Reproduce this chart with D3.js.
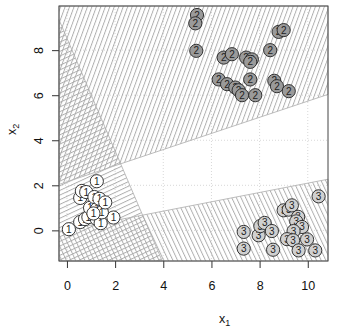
<!DOCTYPE html>
<html><head><meta charset="utf-8">
<script src="https://cdn.jsdelivr.net/npm/d3@7"></script>
<style>body{margin:0;background:#fff}svg{display:block}text{font-family:"Liberation Sans",Arial,sans-serif}</style>
</head><body><svg id="c" width="337" height="334"></svg>
<script>
// axis limits and ticks
const xLim = [-0.33, 10.84];
const yLim = [-1.36, 9.96];
const xTicks = [0, 2, 4, 6, 8, 10];
const yTicks = [0, 2, 4, 6, 8];
// class 1 points
const c1x = [0.08,0.55,0.75,0.89,1.24,1.40,1.93,0.96,1.25,1.45,0.55,0.62,0.80,1.14,1.35,1.59,1.24,1.10];
const c1y = [0.05,0.37,0.50,0.59,0.50,0.32,0.57,1.00,0.95,0.80,1.44,1.75,1.70,1.48,1.40,1.24,2.18,0.75];
// class 2 points
const c2x = [5.40,5.33,5.37,6.51,6.85,7.44,7.68,7.61,8.44,8.79,9.00,6.30,6.65,6.99,7.13,7.27,7.82,7.61,8.61,8.72,9.21];
const c2y = [9.56,9.19,7.97,7.67,7.82,7.67,7.59,7.48,8.00,8.81,8.89,6.70,6.49,6.34,6.22,6.00,6.00,6.70,6.64,6.40,6.18];
// class 3 points
const c3x = [10.45,9.00,9.21,9.34,9.60,9.52,9.76,9.41,9.14,9.39,9.97,9.62,10.31,8.56,7.34,7.34,7.96,8.03,8.21,8.51];
const c3y = [1.51,0.89,0.92,1.11,0.60,0.40,0.15,-0.03,-0.39,-0.44,-0.40,-0.89,-0.89,-0.86,-0.81,-0.07,-0.22,0.19,0.33,-0.03];
// decision lines: a*x + b*y + c >= 0 means the class claims the point
const lineA = [-2.5, -1, 8.53];   // class 1
const lineB = [-0.358, 1, -2.155]; // class 2
const lineC = [0.207, -1, 0.026];  // class 3

const svg = d3.select("#c");
const x = d3.scaleLinear().domain(xLim).range([59, 328]);
const y = d3.scaleLinear().domain(yLim).range([261, 6]);

const defs = svg.append("defs");
function pat(id, ang) {
  const p = defs.append("pattern").attr("id", id).attr("patternUnits", "userSpaceOnUse")
    .attr("width", 4.2).attr("height", 20).attr("patternTransform", "rotate(" + ang + ")");
  p.append("line").attr("x1", 0.5).attr("y1", 0).attr("x2", 0.5).attr("y2", 20)
    .attr("stroke", "#aaaaaa").attr("stroke-width", 0.9);
}
pat("h1", 65); pat("h2", 20); pat("h3", -25);

// grid
const grid = svg.append("g").attr("stroke", "#d8d8d8").attr("stroke-dasharray", "1,2");
xTicks.forEach(t => grid.append("line").attr("x1", x(t)).attr("x2", x(t)).attr("y1", 6).attr("y2", 261));
yTicks.forEach(t => grid.append("line").attr("y1", y(t)).attr("y2", y(t)).attr("x1", 59).attr("x2", 328));

function clip(poly, L) {
  const f = p => L[0] * p[0] + L[1] * p[1] + L[2];
  const out = [];
  for (let i = 0; i < poly.length; i++) {
    const P = poly[i], Q = poly[(i + 1) % poly.length];
    const fp = f(P), fq = f(Q);
    if (fp >= 0) out.push(P);
    if ((fp >= 0) !== (fq >= 0)) {
      const t = fp / (fp - fq);
      out.push([P[0] + t * (Q[0] - P[0]), P[1] + t * (Q[1] - P[1])]);
    }
  }
  return out;
}
const rect = [[xLim[0], yLim[0]], [xLim[1], yLim[0]], [xLim[1], yLim[1]], [xLim[0], yLim[1]]];
[[lineA, "h1"], [lineB, "h2"], [lineC, "h3"]].forEach(([L, id]) => {
  const poly = clip(rect, L);
  svg.append("path").attr("d", d3.line().x(d => x(d[0])).y(d => y(d[1]))(poly) + "Z")
    .attr("fill", "url(#" + id + ")").attr("stroke", "#b5b5b5").attr("stroke-width", 0.9);
});

// axes
const xa = svg.append("g").attr("transform", "translate(0,261)")
  .call(d3.axisBottom(x).tickValues(xTicks).tickSize(7).tickPadding(13).tickFormat(d3.format("d")));
const ya = svg.append("g").attr("transform", "translate(59,0)")
  .call(d3.axisLeft(y).tickValues(yTicks).tickSize(7).tickPadding(0).tickFormat(d3.format("d")));
[xa, ya].forEach(a => {
  a.select(".domain").remove();
  a.selectAll("line").attr("stroke", "#333");
  a.selectAll("text").attr("font-size", 12.5).attr("fill", "#111")
    .attr("font-family", "Liberation Sans, Arial, sans-serif");
});
ya.selectAll(".tick text").attr("text-anchor", "middle").attr("dy", 0)
  .attr("transform", "translate(-20,0) rotate(-90)").attr("x", 0).attr("y", 0)
  .attr("dominant-baseline", "central");

svg.append("rect").attr("x", 59).attr("y", 6).attr("width", 269).attr("height", 255)
  .attr("fill", "none").attr("stroke", "#444").attr("stroke-width", 1);

// axis titles
const xt = svg.append("text").attr("x", 219).attr("y", 323).attr("font-size", 12.5).attr("fill", "#111").text("x");
xt.append("tspan").attr("font-size", 9).attr("dy", 3).text("1");
const yt = svg.append("text").attr("transform", "translate(16,135) rotate(-90)").attr("font-size", 12.5).attr("fill", "#111").text("x");
yt.append("tspan").attr("font-size", 9).attr("dy", 3).text("2");

// points
const classes = [[c1x, c1y, "#ffffff", "1"], [c2x, c2y, "#9a9a9a", "2"], [c3x, c3y, "#d0d0d0", "3"]];
classes.forEach(([xs, ys, fill, lab]) => {
  xs.forEach((v, i) => {
    const g = svg.append("g").attr("transform", `translate(${x(v)},${y(ys[i])})`);
    g.append("circle").attr("r", 6.6).attr("fill", fill).attr("stroke", "#222").attr("stroke-width", 0.9);
    g.append("text").attr("text-anchor", "middle").attr("dominant-baseline", "central")
      .attr("font-size", 10).attr("fill", "#222").text(lab);
  });
});
</script></body></html>
